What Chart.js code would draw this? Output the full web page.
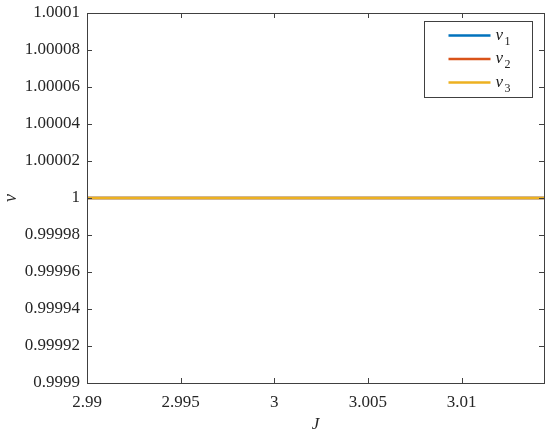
<!DOCTYPE html>
<html>
<head>
<meta charset="utf-8">
<script src="https://cdn.jsdelivr.net/npm/chart.js@4"></script>
<style>
html,body{margin:0;padding:0;background:#fff;}
#wrap{width:550px;height:435px;position:relative;}
</style>
</head>
<body>
<div id="wrap"><canvas id="c" width="550" height="435"></canvas></div>
<script>
// ---- data ----
const jValues = [2.99, 2.995, 3.0, 3.005, 3.01, 3.0144];
const nu1 = [1, 1, 1, 1, 1, 1];
const nu2 = [1, 1, 1, 1, 1, 1];
const nu3 = [1, 1, 1, 1, 1, 1];
const xTicks = [2.99, 2.995, 3, 3.005, 3.01];
const xTickLabels = ['2.99', '2.995', '3', '3.005', '3.01'];
const yTicks = [0.9999, 0.99992, 0.99994, 0.99996, 0.99998, 1, 1.00002, 1.00004, 1.00006, 1.00008, 1.0001];
const yTickLabels = ['0.9999', '0.99992', '0.99994', '0.99996', '0.99998', '1', '1.00002', '1.00004', '1.00006', '1.00008', '1.0001'];
const seriesNames = ['1', '2', '3'];
const seriesColors = ['#0072BD', '#D95319', '#EDB120'];
const xRange = [2.99, 3.0144];
const yRange = [0.9999, 1.0001];

const serif = "'Liberation Serif', 'Times New Roman', serif";
const axisColor = '#404040';

const toPts = arr => arr.map((v, i) => ({x: jValues[i], y: v}));

const framePlugin = {
  id: 'frame',
  afterDraw(chart) {
    const ctx = chart.ctx, a = chart.chartArea;
    const xs = chart.scales.x, ys = chart.scales.y;
    ctx.save();
    ctx.strokeStyle = axisColor;
    ctx.lineWidth = 1;
    ctx.strokeRect(Math.round(a.left) + 0.5, Math.round(a.top) + 0.5,
                   Math.round(a.right - a.left), Math.round(a.bottom - a.top));
    const tl = 5;
    ctx.beginPath();
    xTicks.forEach(t => {
      const px = Math.round(xs.getPixelForValue(t)) + 0.5;
      ctx.moveTo(px, a.bottom); ctx.lineTo(px, a.bottom - tl);
      ctx.moveTo(px, a.top); ctx.lineTo(px, a.top + tl);
    });
    yTicks.forEach(t => {
      const py = Math.round(ys.getPixelForValue(t)) + 0.5;
      ctx.moveTo(a.left, py); ctx.lineTo(a.left + tl, py);
      ctx.moveTo(a.right, py); ctx.lineTo(a.right - tl, py);
    });
    ctx.stroke();

    // legend
    const bw = 108, bh = 76;
    const bx = Math.round(a.right - 12 - bw) + 0.5, by = Math.round(a.top + 8) + 0.5;
    ctx.fillStyle = '#fff';
    ctx.fillRect(bx, by, bw, bh);
    ctx.strokeStyle = axisColor;
    ctx.strokeRect(bx, by, bw, bh);
    seriesNames.forEach((n, i) => {
      const y = by + 14 + i * 23.5;
      ctx.strokeStyle = seriesColors[i];
      ctx.lineWidth = 2.5;
      ctx.beginPath();
      ctx.moveTo(bx + 24, y); ctx.lineTo(bx + 66, y);
      ctx.stroke();
      ctx.fillStyle = '#222';
      ctx.textBaseline = 'middle';
      ctx.textAlign = 'left';
      ctx.font = 'italic 17px ' + serif;
      ctx.fillText('\u03BD', bx + 71, y);
      ctx.font = '12px ' + serif;
      ctx.fillText(n, bx + 80, y + 6);
    });
    ctx.restore();
  }
};

new Chart(document.getElementById('c'), {
  type: 'line',
  data: {
    datasets: [
      {label: 'nu1', data: toPts(nu1), borderColor: seriesColors[0], borderWidth: 2.5, pointRadius: 0, order: 3},
      {label: 'nu2', data: toPts(nu2), borderColor: seriesColors[1], borderWidth: 2.5, pointRadius: 0, order: 2},
      {label: 'nu3', data: toPts(nu3), borderColor: seriesColors[2], borderWidth: 2.5, pointRadius: 0, order: 1}
    ]
  },
  options: {
    responsive: false,
    animation: false,
    layout: {padding: {top: 13, right: 6, left: 0, bottom: 0}},
    plugins: {legend: {display: false}, tooltip: {enabled: false}},
    scales: {
      x: {
        type: 'linear', min: xRange[0], max: xRange[1],
        grid: {display: false, drawTicks: false},
        border: {display: false},
        afterBuildTicks: s => { s.ticks = xTicks.map(v => ({value: v})); },
        afterFit: s => { s.height = 52; s.paddingLeft = 0; s.paddingRight = 0; },
        ticks: {
          color: '#262626', font: {family: serif, size: 17}, padding: 9,
          maxRotation: 0, autoSkip: false,
          callback: (v) => { const i = xTicks.indexOf(v); return i >= 0 ? xTickLabels[i] : ''; }
        },
        title: {display: true, text: 'J', color: '#262626', font: {family: serif, size: 17, style: 'italic'}, padding: {top: 2, bottom: 0}}
      },
      y: {
        type: 'linear', min: yRange[0], max: yRange[1],
        grid: {display: false, drawTicks: false},
        border: {display: false},
        afterBuildTicks: s => { s.ticks = yTicks.map(v => ({value: v})); },
        afterFit: s => { s.width = 87; s.paddingTop = 0; s.paddingBottom = 0; },
        ticks: {
          color: '#262626', font: {family: serif, size: 17}, padding: 7, autoSkip: false,
          callback: (v) => { const i = yTicks.indexOf(v); return i >= 0 ? yTickLabels[i] : ''; }
        },
        title: {display: true, text: '\u03BD', color: '#262626', font: {family: serif, size: 18, style: 'italic'}, padding: {top: 0, bottom: 0}}
      }
    }
  },
  plugins: [framePlugin]
});
</script>
</body>
</html>
